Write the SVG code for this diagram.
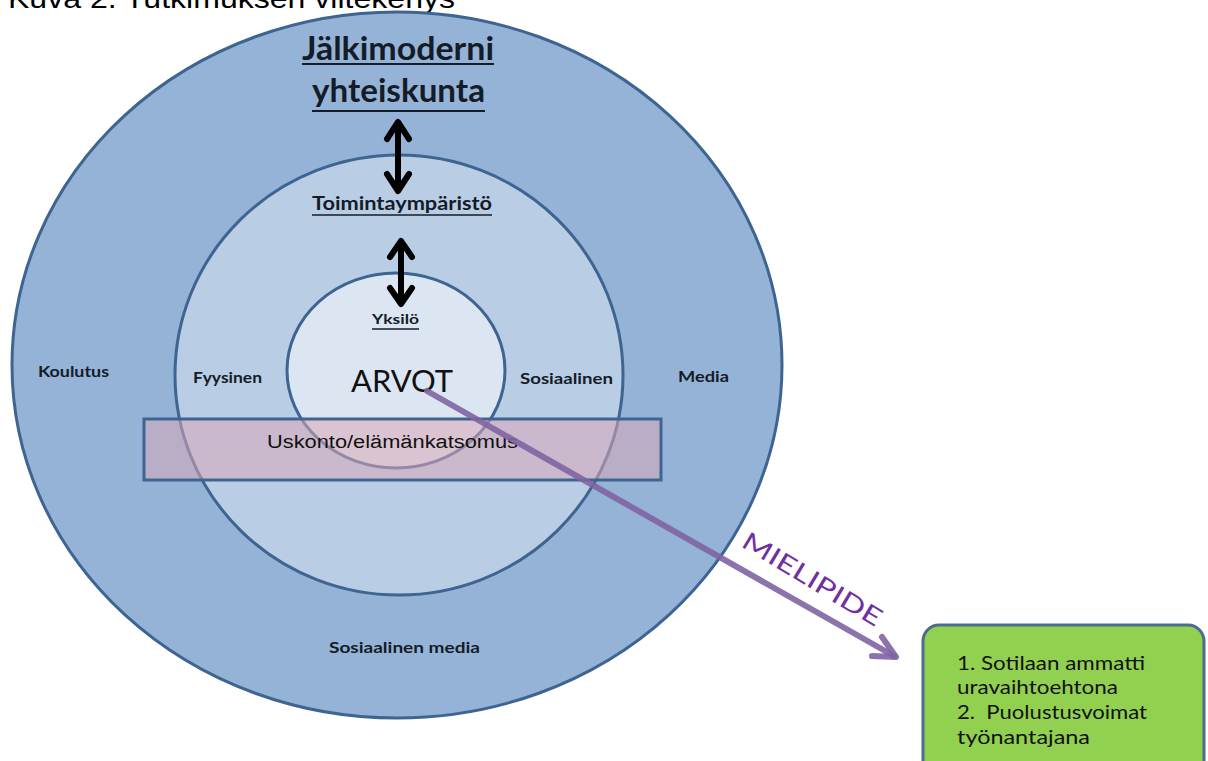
<svg xmlns="http://www.w3.org/2000/svg" width="1208" height="761" viewBox="0 0 1208 761">
<defs>
<style>
.ring{stroke:#3e6491;stroke-width:3}
.lbl{font-family:Lato,"Open Sans","Liberation Sans",sans-serif;font-weight:bold;fill:#141c28}
.ul{stroke:#141c28}
.blk{fill:none;stroke:#000;stroke-width:6;stroke-linecap:round;stroke-linejoin:round}
.grn{font-family:Lato,"Open Sans","Liberation Sans",sans-serif;font-size:19px;fill:#111}
</style>
</defs>
<rect width="1208" height="761" fill="#fff"/>
<text x="8" y="8" font-family="Liberation Sans,Arial,sans-serif" font-size="27" fill="#000" textLength="447" lengthAdjust="spacingAndGlyphs">Kuva 2. Tutkimuksen viitekehys</text>

<g id="outer">
<ellipse cx="397" cy="365" rx="385" ry="353" fill="#95b3d7" class="ring"/>
<text class="lbl" x="38" y="377" font-size="15" textLength="71" lengthAdjust="spacingAndGlyphs">Koulutus</text>
<text class="lbl" x="678" y="382" font-size="15" textLength="51" lengthAdjust="spacingAndGlyphs">Media</text>
<text class="lbl" x="329" y="653" font-size="15" textLength="151" lengthAdjust="spacingAndGlyphs">Sosiaalinen media</text>
<text class="lbl" x="302" y="60" font-size="33" textLength="192" lengthAdjust="spacingAndGlyphs">Jälkimoderni</text>
<line class="ul" x1="302" y1="64" x2="494" y2="64" stroke-width="2.2"/>
<text class="lbl" x="312" y="102" font-size="33" textLength="173" lengthAdjust="spacingAndGlyphs">yhteiskunta</text>
<line class="ul" x1="312" y1="111" x2="485" y2="111" stroke-width="2.2"/>
</g>

<g id="middle">
<ellipse cx="399" cy="375" rx="224" ry="220" fill="#b9cde5" class="ring"/>
<text class="lbl" x="312" y="210" font-size="18" textLength="180" lengthAdjust="spacingAndGlyphs">Toimintaympäristö</text>
<line class="ul" x1="312" y1="215" x2="492" y2="215" stroke-width="1.6"/>
<text class="lbl" x="193" y="383" font-size="15" textLength="69" lengthAdjust="spacingAndGlyphs">Fyysinen</text>
<text class="lbl" x="520" y="384" font-size="15" textLength="93" lengthAdjust="spacingAndGlyphs">Sosiaalinen</text>
</g>

<g id="inner">
<ellipse cx="396" cy="370.5" rx="109" ry="97.5" fill="#dce6f2" class="ring"/>
<text class="lbl" x="372" y="324" font-size="14" textLength="47" lengthAdjust="spacingAndGlyphs">Yksilö</text>
<line class="ul" x1="372" y1="329" x2="419" y2="329" stroke-width="1.3"/>
<text x="351" y="392" font-family="Lato,'Open Sans','Liberation Sans',sans-serif" font-size="30" fill="#111" textLength="102" lengthAdjust="spacingAndGlyphs">ARVOT</text>
</g>

<g id="uskonto">
<rect x="144" y="419" width="517" height="61" fill="#d9a8b8" fill-opacity="0.55" stroke="#3e6491" stroke-width="3"/>
<text x="267" y="448" font-family="Liberation Sans,Arial,sans-serif" font-size="18" fill="#111" textLength="251" lengthAdjust="spacingAndGlyphs">Uskonto/elämänkatsomus</text>
</g>

<g id="connectors">
<line class="blk" x1="398" y1="124" x2="398" y2="189"/>
<polyline class="blk" points="387,139 398,122 409,139"/>
<polyline class="blk" points="387,174 398,191 409,174"/>
<line class="blk" x1="401" y1="243" x2="401" y2="302"/>
<polyline class="blk" points="390,257 401,241 412,257"/>
<polyline class="blk" points="390,288 401,304 412,288"/>
<g stroke="#8064a2" stroke-opacity="0.9" stroke-width="6" fill="none" stroke-linecap="round" stroke-linejoin="round">
<line x1="427" y1="391" x2="894" y2="656"/>
<polyline points="882,637 896,657 872,656"/>
</g>
<text x="740" y="546" transform="rotate(31 740 546)" font-family="Lato,'Open Sans','Liberation Sans',sans-serif" font-size="25" fill="#7030a0" textLength="158" lengthAdjust="spacingAndGlyphs">MIELIPIDE</text>
</g>

<g id="result">
<rect x="923" y="625" width="281" height="170" rx="16" fill="#92d050" stroke="#4a6c8e" stroke-width="3"/>
<text class="grn" x="957" y="670" textLength="188" lengthAdjust="spacingAndGlyphs">1. Sotilaan ammatti</text>
<text class="grn" x="957" y="694" textLength="161" lengthAdjust="spacingAndGlyphs">uravaihtoehtona</text>
<text class="grn" x="957" y="719" textLength="190" lengthAdjust="spacingAndGlyphs" xml:space="preserve">2.  Puolustusvoimat</text>
<text class="grn" x="957" y="744" textLength="133" lengthAdjust="spacingAndGlyphs">työnantajana</text>
</g>
</svg>
